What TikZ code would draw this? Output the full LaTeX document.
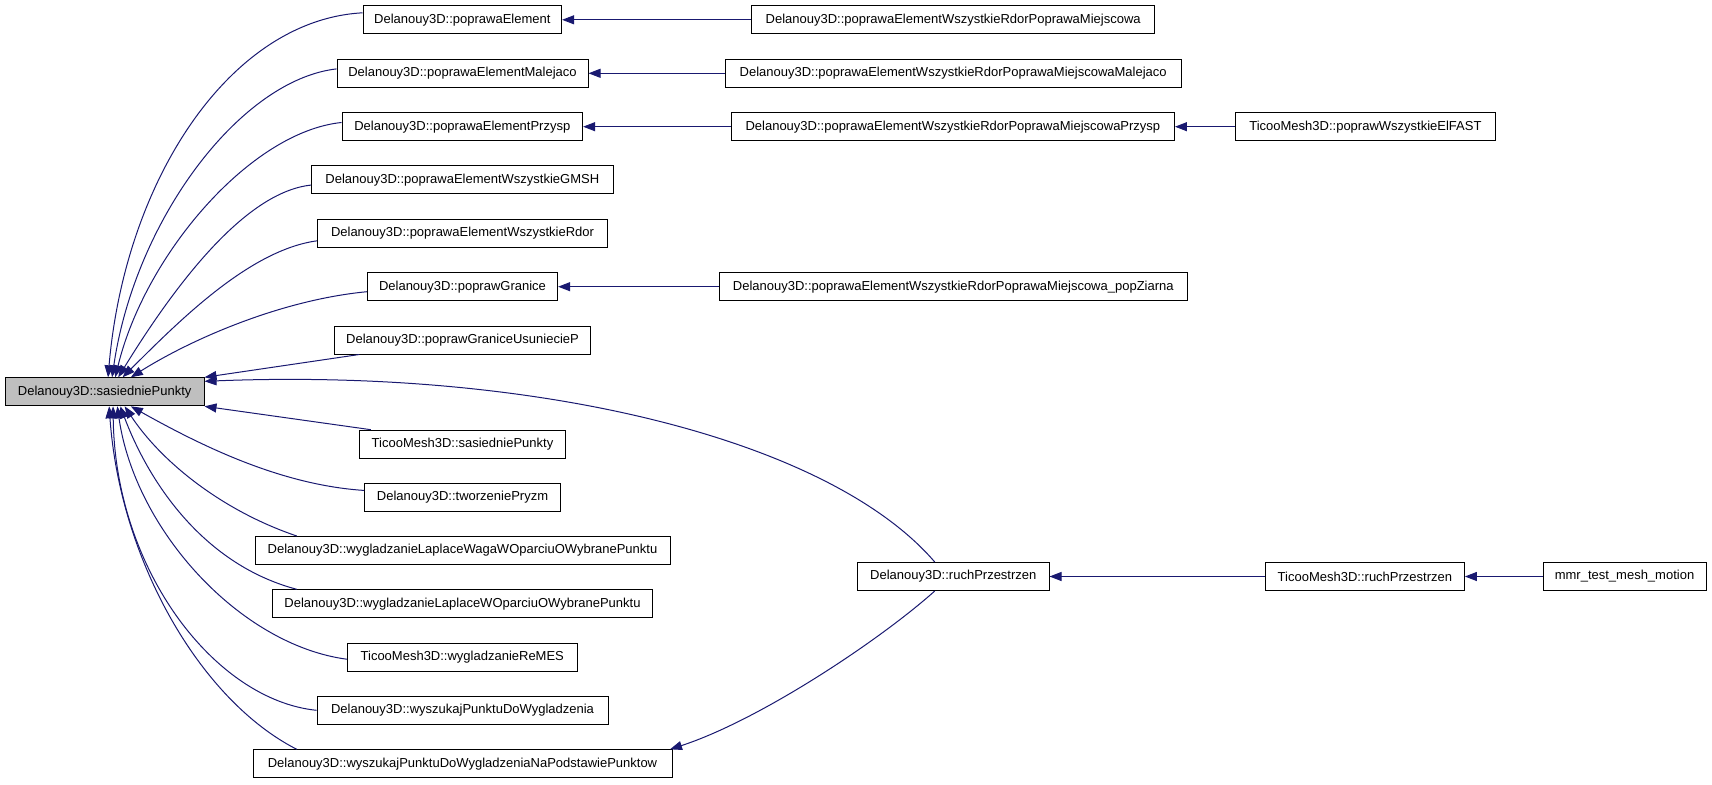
\documentclass[tikz,border=0pt]{standalone}
\usepackage{fontspec}
\setmainfont{Liberation Sans}
\usetikzlibrary{arrows.meta}
\definecolor{navyc}{RGB}{25,25,112}
\definecolor{grayfill}{RGB}{191,191,191}
\begin{document}
\begin{tikzpicture}[x=1pt,y=-1pt,
  box/.style={draw=black,line width=1pt,fill=white,minimum height=28pt,inner sep=0pt,font=\fontsize{13}{15}\selectfont},
  edge/.style={draw=navyc,line width=1pt,{Triangle[length=12pt,width=9pt]}-}]
\useasboundingbox (0,0) rectangle (1712,784);
% nodes
\node[box,minimum width=198.6pt] (pE) at (462.3,19.8) {Delanouy3D::poprawaElement};
\node[box,minimum width=251pt] (pm) at (462.5,73.3) {Delanouy3D::poprawaElementMalejaco};
\node[box,minimum width=240.6pt] (pp) at (462.3,126.7) {Delanouy3D::poprawaElementPrzysp};
\node[box,minimum width=301.4pt] (pg) at (462.3,179.8) {Delanouy3D::poprawaElementWszystkieGMSH};
\node[box,minimum width=290.2pt] (pr) at (462.5,233.2) {Delanouy3D::poprawaElementWszystkieRdor};
\node[box,minimum width=190.2pt] (gr) at (462.5,286.7) {Delanouy3D::poprawGranice};
\node[box,minimum width=256.2pt] (us) at (462.5,340) {Delanouy3D::poprawGraniceUsuniecieP};
\node[box,minimum width=198.6pt,fill=grayfill] (sas) at (104.7,391.8) {Delanouy3D::sasiedniePunkty};
\node[box,minimum width=206.2pt] (ts) at (462.5,444.2) {TicooMesh3D::sasiedniePunkty};
\node[box,minimum width=195.6pt] (tw) at (462.5,497.3) {Delanouy3D::tworzeniePryzm};
\node[box,minimum width=415pt] (wl) at (462.5,550.5) {Delanouy3D::wygladzanieLaplaceWagaWOparciuOWybranePunktu};
\node[box,minimum width=380.4pt] (lw) at (462.5,603.8) {Delanouy3D::wygladzanieLaplaceWOparciuOWybranePunktu};
\node[box,minimum width=229.9pt] (re) at (462.3,657.2) {TicooMesh3D::wygladzanieReMES};
\node[box,minimum width=291pt] (wy) at (462.5,710.3) {Delanouy3D::wyszukajPunktuDoWygladzenia};
\node[box,minimum width=419pt] (np) at (462.5,763.8) {Delanouy3D::wyszukajPunktuDoWygladzeniaNaPodstawiePunktow};
\node[box,minimum width=402.8pt] (mi) at (953.2,19.8) {Delanouy3D::poprawaElementWszystkieRdorPoprawaMiejscowa};
\node[box,minimum width=455.6pt] (mm) at (953.2,73.3) {Delanouy3D::poprawaElementWszystkieRdorPoprawaMiejscowaMalejaco};
\node[box,minimum width=443.1pt] (mp) at (952.9,126.7) {Delanouy3D::poprawaElementWszystkieRdorPoprawaMiejscowaPrzysp};
\node[box,minimum width=260.7pt] (ef) at (1365.4,126.7) {TicooMesh3D::poprawWszystkieElFAST};
\node[box,minimum width=467.5pt] (pz) at (953.3,286.7) {Delanouy3D::poprawaElementWszystkieRdorPoprawaMiejscowa\_popZiarna};
\node[box,minimum width=191.4pt] (rd) at (953.3,576.5) {Delanouy3D::ruchPrzestrzen};
\node[box,minimum width=198.9pt] (rt) at (1364.9,576.5) {TicooMesh3D::ruchPrzestrzen};
\node[box,minimum width=163pt] (mmr) at (1624.5,576.5) {mmr\_test\_mesh\_motion};
% edges into sasiedniePunkty
\draw[edge] (sas.77) .. controls (125,180) and (230,20) .. (pE.176);
\draw[edge] (sas.63) .. controls (135,220) and (240,80) .. (pm.178.5);
\draw[edge] (sas.54) .. controls (145,255) and (250,132) .. (pp.178.7);
\draw[edge] (sas.47) .. controls (175,285) and (245,192) .. (pg.182);
\draw[edge] (sas.39) .. controls (180,320) and (250,250) .. (pr.183);
\draw[edge] (sas.29) .. controls (190,340) and (280,300) .. (gr.183);
\draw[edge] (sas.north east) -- (us.188.3);
\draw[edge] (sas.6) .. controls (540,368) and (830,440) .. (rd.142);
\draw[edge] (sas.south east) -- (ts.171.7);
\draw[edge] (sas.-29) .. controls (200,445) and (280,485) .. (tw.176.7);
\draw[edge] (sas.-36) .. controls (160,460) and (220,510) .. (wl.175.4);
\draw[edge] (sas.-43) .. controls (150,485) and (205,565) .. (lw.175.6);
\draw[edge] (sas.-49) .. controls (135,530) and (240,645) .. (re.181.4);
\draw[edge] (sas.-60) .. controls (115,570) and (215,700) .. (wy.180);
\draw[edge] (sas.-73) .. controls (120,560) and (200,700) .. (np.175.7);
\draw[edge] (np.4.8) .. controls (760,720) and (880,640) .. (rd.218);
% horizontal edges
\draw[edge] (pE) -- (mi);
\draw[edge] (pm) -- (mm);
\draw[edge] (pp) -- (mp);
\draw[edge] (mp) -- (ef);
\draw[edge] (gr) -- (pz);
\draw[edge] (rd) -- (rt);
\draw[edge] (rt) -- (mmr);
\end{tikzpicture}
\end{document}
